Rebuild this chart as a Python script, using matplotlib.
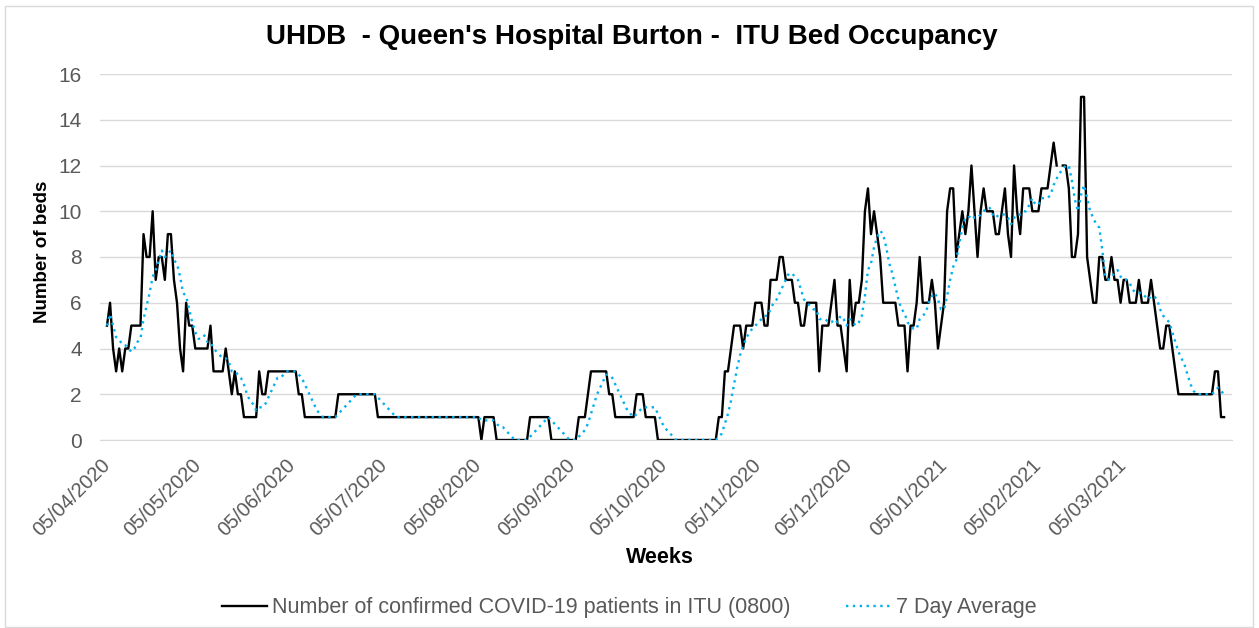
import pandas as pd
import numpy as np
import matplotlib
matplotlib.use('Agg')
import matplotlib.pyplot as plt
import matplotlib.dates as mdates
from matplotlib.patches import Rectangle

plt.rcParams['font.family'] = ['Liberation Sans', 'DejaVu Sans']

# daily ITU patients (0800), first day 05/04/2020
start_date = '2020-04-05'
itu_patients = [
    5, 6, 4, 3, 4, 3, 4, 4, 5, 5,
    5, 5, 9, 8, 8, 10, 7, 8, 8, 7,
    9, 9, 7, 6, 4, 3, 6, 5, 5, 4,
    4, 4, 4, 4, 5, 3, 3, 3, 3, 4,
    3, 2, 3, 2, 2, 1, 1, 1, 1, 1,
    3, 2, 2, 3, 3, 3, 3, 3, 3, 3,
    3, 3, 3, 2, 2, 1, 1, 1, 1, 1,
    1, 1, 1, 1, 1, 1, 2, 2, 2, 2,
    2, 2, 2, 2, 2, 2, 2, 2, 2, 1,
    1, 1, 1, 1, 1, 1, 1, 1, 1, 1,
    1, 1, 1, 1, 1, 1, 1, 1, 1, 1,
    1, 1, 1, 1, 1, 1, 1, 1, 1, 1,
    1, 1, 1, 0, 1, 1, 1, 1, 0, 0,
    0, 0, 0, 0, 0, 0, 0, 0, 0, 1,
    1, 1, 1, 1, 1, 1, 0, 0, 0, 0,
    0, 0, 0, 0, 0, 1, 1, 1, 2, 3,
    3, 3, 3, 3, 3, 2, 2, 1, 1, 1,
    1, 1, 1, 1, 2, 2, 2, 1, 1, 1,
    1, 0, 0, 0, 0, 0, 0, 0, 0, 0,
    0, 0, 0, 0, 0, 0, 0, 0, 0, 0,
    0, 1, 1, 3, 3, 4, 5, 5, 5, 4,
    5, 5, 5, 6, 6, 6, 5, 5, 7, 7,
    7, 8, 8, 7, 7, 7, 6, 6, 5, 5,
    6, 6, 6, 6, 3, 5, 5, 5, 6, 7,
    5, 5, 4, 3, 7, 5, 6, 6, 7, 10,
    11, 9, 10, 9, 8, 6, 6, 6, 6, 6,
    5, 5, 5, 3, 5, 5, 6, 8, 6, 6,
    6, 7, 6, 4, 5, 6, 10, 11, 11, 8,
    9, 10, 9, 10, 12, 10, 8, 10, 11, 10,
    10, 10, 9, 9, 10, 11, 9, 8, 12, 10,
    9, 11, 11, 11, 10, 10, 10, 11, 11, 11,
    12, 13, 12, np.nan, 12, 12, 11, 8, 8, 9,
    15, 15, 8, 7, 6, 6, 8, 8, 7, 7,
    8, 7, 7, 6, 7, 7, 6, 6, 6, 7,
    6, 6, 6, 7, 6, 5, 4, 4, 5, 5,
    4, 3, 2, 2, 2, 2, 2, 2, 2, 2,
    2, 2, 2, 2, 3, 3, 1, 1,
]
series_labels = ['Number of confirmed COVID-19 patients in ITU (0800)', '7 Day Average']
tick_dates = ['2020-04-05', '2020-05-05', '2020-06-05', '2020-07-05', '2020-08-05',
              '2020-09-05', '2020-10-05', '2020-11-05', '2020-12-05', '2021-01-05',
              '2021-02-05', '2021-03-05']
y_ticks = [0, 2, 4, 6, 8, 10, 12, 14, 16]

dates = pd.date_range(start_date, periods=len(itu_patients), freq='D')
df = pd.DataFrame({'patients': itu_patients}, index=dates)
df['avg7'] = df['patients'].rolling(7, min_periods=1).mean()

W, H = 1259, 628
fig = plt.figure(figsize=(W / 100, H / 100), dpi=100)
ax = fig.add_axes([100 / W, (H - 440) / H, 1132 / W, 366 / H])

ax.plot(df.index, df['patients'], color='black', lw=1.7, label=series_labels[0])
ax.plot(df.index, df['avg7'], color='#00B0F0', lw=1.7, linestyle=(0, (1, 1.9)),
        label=series_labels[1])

ax.set_ylim(0, 16)
ax.set_yticks(y_ticks)
ax.set_xlim(dates[0] - pd.Timedelta(days=2.3), dates[-1] + pd.Timedelta(days=2.6))
ax.set_xticks(pd.to_datetime(tick_dates))
ax.xaxis.set_major_formatter(mdates.DateFormatter('%d/%m/%Y'))

ax.grid(axis='y', color='#D9D9D9', lw=1)
ax.set_axisbelow(True)
for s in ['top', 'right', 'left']:
    ax.spines[s].set_visible(False)
ax.spines['bottom'].set_color('#D9D9D9')
ax.tick_params(length=0, colors='#595959')
ax.tick_params(axis='y', pad=13, labelsize=15)
ax.tick_params(axis='x', pad=16, labelsize=14.5)
plt.setp(ax.get_xticklabels(), rotation=45, ha='right', va='center', rotation_mode='anchor')

ax.set_ylabel('Number of beds', fontsize=13.5, fontweight='bold', color='black')
ax.yaxis.set_label_coords(-0.043, 0.514)
ax.set_xlabel('Weeks', fontsize=15.5, fontweight='bold', color='black')
ax.xaxis.set_label_coords(0.495, -0.293)

fig.text(632 / W, 1 - 37 / H, "UHDB  - Queen's Hospital Burton -  ITU Bed Occupancy",
         ha='center', va='center', fontsize=20, fontweight='bold')

leg = fig.legend(loc='center', bbox_to_anchor=(0.5, 20 / H), ncol=2, frameon=False,
                 fontsize=15.5, handlelength=2.1, handletextpad=0.25, columnspacing=2.55)
for t in leg.get_texts():
    t.set_color('#595959')

# chart area border
fig.patches.append(Rectangle((5 / W, 1 / H), 1248 / W, 621 / H, transform=fig.transFigure,
                             fill=False, edgecolor='#D9D9D9', lw=1))

fig.savefig('out.png', dpi=100)
